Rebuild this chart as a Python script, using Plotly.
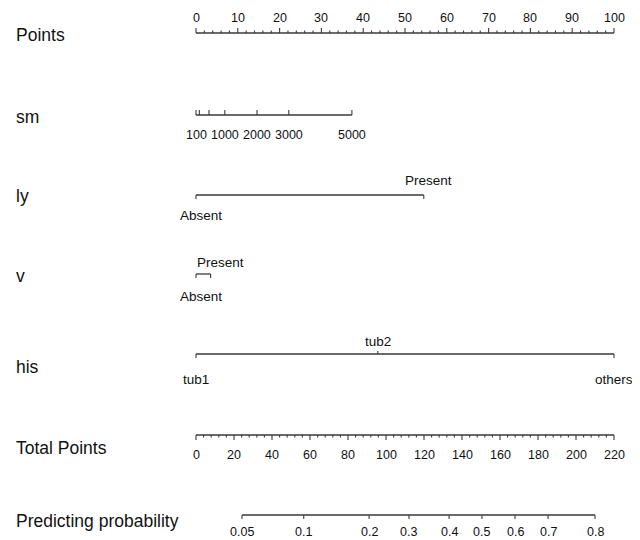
import plotly.graph_objects as go

# ---------------- data ----------------
points_major = list(range(0, 101, 10))
points_minor = [v for v in range(0, 101, 2) if v % 10 != 0]

sm_values = [100, 200, 500, 1000, 2000, 3000, 5000]
sm_points = [0, 0.8, 3.1, 6.9, 14.6, 22.2, 37.3]
sm_labels = ["100", "", "", "1000", "2000", "3000", "5000"]

ly_levels = ["Absent", "Present"]
ly_points = [0, 54.5]

v_levels = ["Absent", "Present"]
v_points = [0, 3.5]

his_levels = ["tub1", "tub2", "others"]
his_points = [0, 43.5, 100]

total_major = list(range(0, 221, 20))
total_minor = [v for v in range(0, 221, 4) if v % 20 != 0]
TOTAL_MAX = 220

prob_values = [0.05, 0.1, 0.2, 0.3, 0.4, 0.5, 0.6, 0.7, 0.8]
prob_labels = ["0.05", "0.1", "0.2", "0.3", "0.4", "0.5", "0.6", "0.7", "0.8"]
prob_total = [24.2, 56.7, 91.1, 112.1, 133.2, 150.5, 167.9, 185.3, 210.0]

row_titles = ["Points", "sm", "ly", "v", "his", "Total Points", "Predicting probability"]

# ---------------- layout helpers ----------------
W, H = 640, 540
OFF = 8  # page body margin offset
X0_PX, X100_PX = 196 - OFF, 614 - OFF
scale = (X100_PX - X0_PX) / 100.0
xrange = [-X0_PX / scale, (W - X0_PX) / scale]

LINE_COLOR = "#3a3a3a"
TEXT_COLOR = "#111111"
FONT = "Liberation Sans, Arial, Helvetica, sans-serif"
NUM_SIZE = 12.5
CAT_SIZE = 13.5

fig = go.Figure()
annotations = []


def add_axis_line(xs, y):
    fig.add_trace(go.Scatter(x=[min(xs), max(xs)], y=[y, y], mode="lines",
                             line=dict(color=LINE_COLOR, width=1.3),
                             hoverinfo="skip", showlegend=False))


def add_ticks(xs, y, length):
    tx, ty = [], []
    for x in xs:
        tx += [x, x, None]
        ty += [y, y + length, None]
    fig.add_trace(go.Scatter(x=tx, y=ty, mode="lines",
                             line=dict(color=LINE_COLOR, width=1.1),
                             hoverinfo="skip", showlegend=False))


def add_label(x, y, text, size=NUM_SIZE, xshift=0):
    annotations.append(dict(x=x, y=y, xref="x", yref="y", text=text, showarrow=False,
                            xanchor="center", yanchor="middle", xshift=xshift,
                            font=dict(family=FONT, size=size, color=TEXT_COLOR)))


# Points axis (ticks up, labels above)
y = 33
add_axis_line(points_major, y)
add_ticks(points_major, y, -5)
add_ticks(points_minor, y, -2.5)
for p in points_major:
    add_label(p, 18, str(p))

# sm
y = 115
add_axis_line(sm_points, y)
add_ticks(sm_points, y, -5)
for p, lab in zip(sm_points, sm_labels):
    if lab:
        add_label(p, 135, lab)

# ly
y = 195
add_axis_line(ly_points, y)
add_ticks(ly_points, y, 4)
add_label(ly_points[0], 215, ly_levels[0], size=CAT_SIZE, xshift=5)
add_label(ly_points[1], 180, ly_levels[1], size=CAT_SIZE, xshift=5)

# v
y = 274
add_axis_line(v_points, y)
add_ticks(v_points, y, 4)
add_label(v_points[0], 296, v_levels[0], size=CAT_SIZE, xshift=5)
add_label(v_points[1], 262, v_levels[1], size=CAT_SIZE, xshift=10)

# his
y = 354
add_axis_line(his_points, y)
add_ticks([his_points[0], his_points[2]], y, 4)
add_ticks([his_points[1]], y, -3)
add_label(his_points[0], 379, his_levels[0], size=CAT_SIZE)
add_label(his_points[1], 341, his_levels[1], size=CAT_SIZE)
add_label(his_points[2], 379, his_levels[2], size=CAT_SIZE)

# Total points (ticks down, labels below)
to_x = lambda t: t * 100.0 / TOTAL_MAX
y = 435
add_axis_line([to_x(t) for t in total_major], y)
add_ticks([to_x(t) for t in total_major], y, 5)
add_ticks([to_x(t) for t in total_minor], y, 2.5)
for t in total_major:
    add_label(to_x(t), 455, str(t))

# Predicting probability
y = 515
px = [to_x(t) for t in prob_total]
add_axis_line(px, y)
add_ticks(px, y, 4)
for x, lab in zip(px, prob_labels):
    add_label(x, 532, lab)

# Row titles
title_y = [35, 117, 196, 276, 367, 448, 521]
for t, ty in zip(row_titles, title_y):
    annotations.append(dict(x=(14 - OFF) / W, y=ty, xref="paper", yref="y", text=t, showarrow=False,
                            xanchor="left", yanchor="middle",
                            font=dict(family=FONT, size=17.5, color=TEXT_COLOR)))

fig.update_layout(
    width=W, height=H,
    margin=dict(l=0, r=0, t=0, b=0),
    paper_bgcolor="white", plot_bgcolor="white",
    xaxis=dict(range=xrange, visible=False, fixedrange=True),
    yaxis=dict(range=[H + OFF, OFF], visible=False, fixedrange=True),
    annotations=annotations,
    showlegend=False,
)

fig.write_html("out.html")
